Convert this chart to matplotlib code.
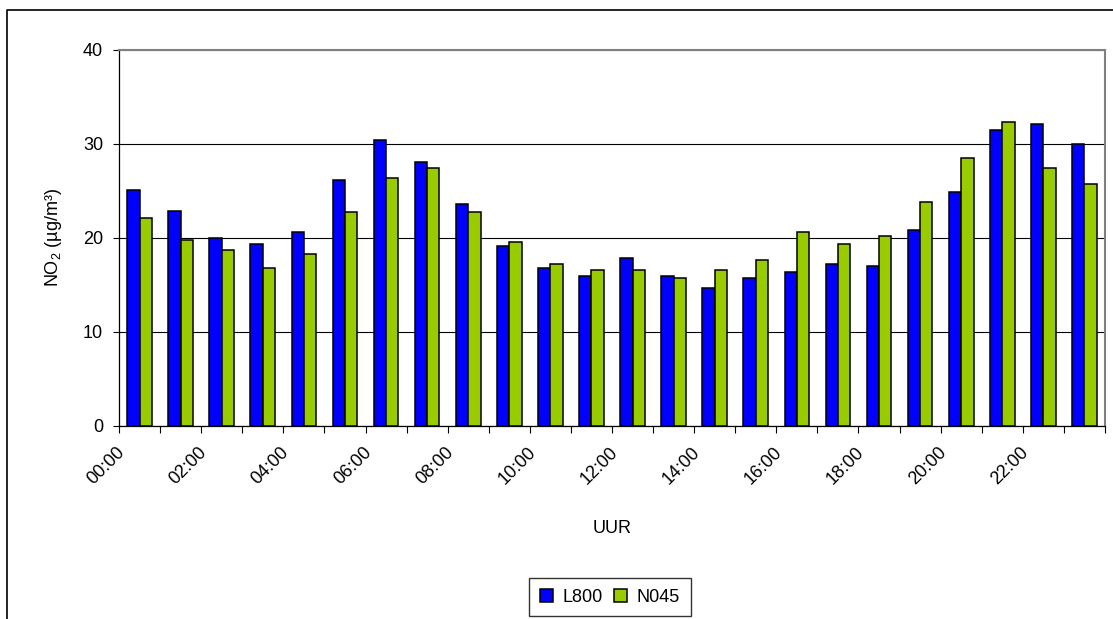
import matplotlib
matplotlib.use("Agg")
import matplotlib.pyplot as plt
import matplotlib.transforms as mtransforms
from matplotlib.lines import Line2D
import numpy as np

plt.rcParams["font.family"] = ["Liberation Sans", "DejaVu Sans"]
plt.rcParams["mathtext.fontset"] = "custom"
plt.rcParams["mathtext.rm"] = "Liberation Sans"
plt.rcParams["mathtext.it"] = "Liberation Sans:italic"

# hourly mean NO2 per station
hours = [f"{h:02d}:00" for h in range(24)]
l800 = [25.1, 22.9, 20.0, 19.4, 20.6, 26.2, 30.4, 28.1, 23.6, 19.1, 16.8, 16.0,
        17.9, 16.0, 14.7, 15.7, 16.4, 17.2, 17.0, 20.9, 24.9, 31.5, 32.1, 30.0]
n045 = [22.1, 19.8, 18.7, 16.8, 18.3, 22.8, 26.4, 27.5, 22.8, 19.6, 17.2, 16.6,
        16.6, 15.7, 16.6, 17.7, 20.6, 19.4, 20.2, 23.8, 28.5, 32.3, 27.4, 25.7]
series = ["L800", "N045"]
colors = ["#0000FF", "#99CC00"]
yticks = [0, 10, 20, 30, 40]

W, H, DPI = 1113, 619, 100
fig = plt.figure(figsize=(W / DPI, H / DPI), dpi=DPI)
ax = fig.add_axes([119 / W, 1 - 426 / H, 986 / W, 376 / H])

FS = 13
bw = 0.30
x = np.arange(len(hours)) + 0.5
for i, (vals, c, name) in enumerate(zip([l800, n045], colors, series)):
    ax.bar(x - bw / 2 + i * bw, vals, width=bw, color=c, edgecolor="black",
           linewidth=1.1, label=name, zorder=3)

ax.set_xlim(0, len(hours))
ax.set_ylim(0, 40)
ax.set_yticks(yticks)
ax.tick_params(axis="y", labelsize=FS, length=4.5, width=0.8, pad=7, direction="out")
ax.yaxis.grid(True, color="black", linewidth=0.8, zorder=0)
ax.set_axisbelow(True)

# category boundaries get the tick marks, every second hour gets a label
ax.set_xticks(np.arange(len(hours) + 1))
ax.set_xticklabels([])
ax.tick_params(axis="x", which="major", length=5, width=0.8, direction="out")
ax.set_xticks(x[::2], minor=True)
ax.set_xticklabels(hours[::2], minor=True)
ax.tick_params(axis="x", which="minor", length=0, labelsize=FS, pad=17)
shift = mtransforms.ScaledTranslation(-12.5 / 72, 0, fig.dpi_scale_trans)
for lab in ax.get_xticklabels(minor=True):
    lab.set_rotation(45)
    lab.set_rotation_mode("anchor")
    lab.set_ha("right")
    lab.set_va("center")
    lab.set_transform(lab.get_transform() + shift)

for side in ["top", "right"]:
    ax.spines[side].set_color("#808080")
    ax.spines[side].set_linewidth(1.5)
for side in ["left", "bottom"]:
    ax.spines[side].set_color("black")
    ax.spines[side].set_linewidth(0.9)

ax.set_ylabel("NO$_2$ (µg/m³)", fontsize=FS)
ax.yaxis.set_label_coords(-0.056, 0.5)
ax.set_xlabel("UUR", fontsize=FS, va="top")
ax.xaxis.set_label_coords(0.5, -0.25)

leg = fig.legend(loc="center", bbox_to_anchor=(610 / W, 1 - 597 / H), ncol=2,
                 fontsize=FS, frameon=True, fancybox=False, edgecolor="black",
                 handlelength=0.7, handleheight=0.7, handletextpad=0.55,
                 columnspacing=0.6, borderpad=0.6)
leg.get_frame().set_linewidth(1.0)

# outer chart border (left and top edges fall inside the canvas)
fig.add_artist(Line2D([7 / W, 7 / W, 1.0], [0.0, 1 - 10 / H, 1 - 10 / H],
                      transform=fig.transFigure, color="black", linewidth=1.2))

fig.savefig("out.png", dpi=DPI)
